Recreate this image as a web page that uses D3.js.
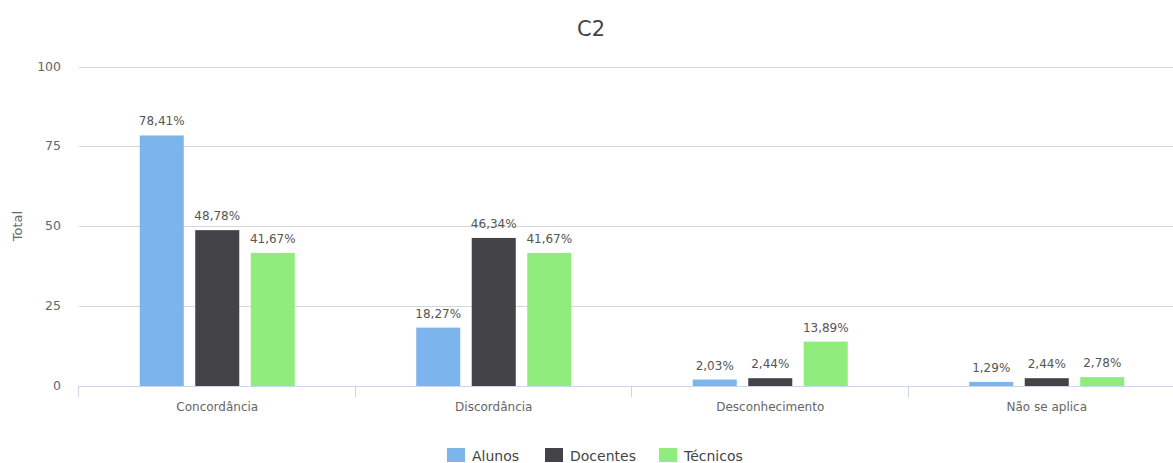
<!DOCTYPE html>
<html>
<head>
<meta charset="utf-8">
<script src="https://cdn.jsdelivr.net/npm/d3@7"></script>
<style>
  body { margin: 0; background: #fff; }
  text { font-family: "DejaVu Sans", sans-serif; }
</style>
</head>
<body>
<div id="chart"></div>
<script>
// Chart data
const categories = ["Concordância", "Discordância", "Desconhecimento", "Não se aplica"];
const seriesNames = ["Alunos", "Docentes", "Técnicos"];
const alunos = [78.41, 18.27, 2.03, 1.29];
const docentes = [48.78, 46.34, 2.44, 2.44];
const tecnicos = [41.67, 41.67, 13.89, 2.78];
const yTicks = [0, 25, 50, 75, 100];
const colors = ["#7cb5ec", "#434348", "#90ed7d"];

const width = 1173, height = 463;
const values = [alunos, docentes, tecnicos];

const svg = d3.select("#chart").append("svg")
  .attr("width", width)
  .attr("height", height);

// Scales
const x = d3.scaleBand()
  .domain(categories)
  .range([79, 1185]);

const xInner = d3.scaleBand()
  .domain(seriesNames)
  .range([0, x.bandwidth()])
  .paddingInner(0.207)
  .paddingOuter(1.094);

const y = d3.scaleLinear()
  .domain([0, 100])
  .range([386, 66.5]);

// Title
svg.append("text")
  .attr("x", 591)
  .attr("y", 36)
  .attr("text-anchor", "middle")
  .attr("fill", "#444")
  .style("font-size", "21px")
  .text("C2");

// Gridlines
svg.append("g")
  .selectAll("line")
  .data(yTicks.filter(d => d > 0))
  .enter().append("line")
  .attr("x1", 79)
  .attr("x2", width)
  .attr("y1", d => Math.round(y(d)) + 0.5)
  .attr("y2", d => Math.round(y(d)) + 0.5)
  .attr("stroke", "#d6d6d6")
  .attr("stroke-width", 1);

// Y tick labels
svg.append("g")
  .selectAll("text")
  .data(yTicks)
  .enter().append("text")
  .attr("x", 61)
  .attr("y", d => y(d) + 4)
  .attr("text-anchor", "end")
  .attr("fill", "#666")
  .style("font-size", "12.5px")
  .text(d => d);

// Y axis title
svg.append("text")
  .attr("transform", "translate(22,226) rotate(-90)")
  .attr("text-anchor", "middle")
  .attr("fill", "#666")
  .style("font-size", "13px")
  .text("Total");

// Bars
const groups = svg.append("g")
  .selectAll("g")
  .data(categories)
  .enter().append("g")
  .attr("transform", d => `translate(${x(d)},0)`);

groups.each(function(cat, ci) {
  const g = d3.select(this);
  seriesNames.forEach((s, si) => {
    const v = values[si][ci];
    g.append("rect")
      .attr("x", xInner(s))
      .attr("y", y(v))
      .attr("width", xInner.bandwidth())
      .attr("height", y(0) - y(v))
      .attr("fill", colors[si]);
    g.append("text")
      .attr("x", xInner(s) + xInner.bandwidth() / 2)
      .attr("y", y(v) - 10)
      .attr("text-anchor", "middle")
      .attr("fill", "#555")
      .style("font-size", "12px")
      .text(v.toFixed(2).replace(".", ",") + "%");
  });
});

// X axis line
svg.append("line")
  .attr("x1", 79)
  .attr("x2", width)
  .attr("y1", 386.5)
  .attr("y2", 386.5)
  .attr("stroke", "#ccd6eb");

// X ticks at category boundaries
svg.append("g")
  .selectAll("line")
  .data(categories)
  .enter().append("line")
  .attr("x1", d => Math.round(x(d)) - 0.5)
  .attr("x2", d => Math.round(x(d)) - 0.5)
  .attr("y1", 386)
  .attr("y2", 397)
  .attr("stroke", "#ccd6eb");

// X labels
svg.append("g")
  .selectAll("text")
  .data(categories)
  .enter().append("text")
  .attr("x", d => x(d) + x.bandwidth() / 2)
  .attr("y", 411)
  .attr("text-anchor", "middle")
  .attr("fill", "#666")
  .style("font-size", "12px")
  .text(d => d);

// Legend
const legendX = [447, 545, 659];
const legend = svg.append("g")
  .selectAll("g")
  .data(seriesNames)
  .enter().append("g")
  .attr("transform", (d, i) => `translate(${legendX[i]},448)`);

legend.append("rect")
  .attr("width", 18)
  .attr("height", 14)
  .attr("fill", (d, i) => colors[i]);

legend.append("text")
  .attr("x", 25)
  .attr("y", 13)
  .attr("fill", "#444")
  .style("font-size", "14px")
  .text(d => d);
</script>
</body>
</html>
